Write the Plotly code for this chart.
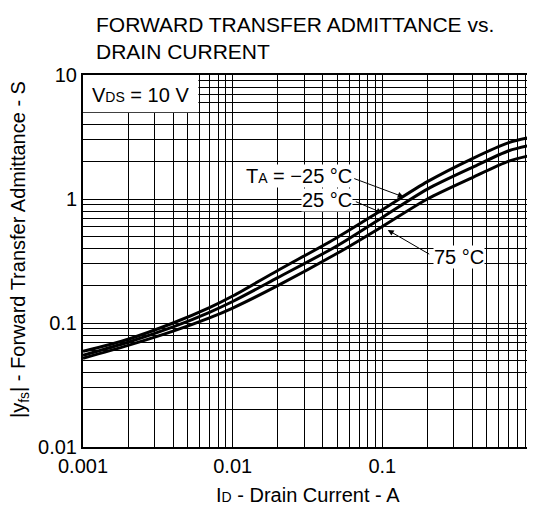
"""Forward transfer admittance vs. drain current chart"""

import plotly.graph_objects as go

# drain current, A
drain_current = [0.001, 0.002, 0.004, 0.007, 0.01, 0.02, 0.05, 0.1, 0.2, 0.4, 0.7, 1.0]

# |yfs| in S for each ambient temperature
yfs_minus25 = [0.059, 0.074, 0.100, 0.133, 0.165, 0.265, 0.49, 0.82, 1.38, 2.12, 2.85, 3.16]
yfs_25 = [0.055, 0.070, 0.093, 0.122, 0.149, 0.232, 0.42, 0.71, 1.20, 1.80, 2.45, 2.73]
yfs_75 = [0.052, 0.066, 0.086, 0.110, 0.132, 0.200, 0.365, 0.60, 1.00, 1.49, 2.02, 2.26]

x_ticks = [0.001, 0.01, 0.1, 1]
x_tick_labels = ['0.001', '0.01', '0.1', '1']
y_ticks = [0.01, 0.1, 1, 10]
y_tick_labels = ['0.01', '0.1', '1', '10']

FONT = 'Liberation Sans, Arial, sans-serif'
SMALL = '<span style="font-size:14px">{}</span>'

# the page body adds an 8 px margin, so the figure is 8 px smaller than the window
WIDTH, HEIGHT = 527, 507


def minor_vals(decades):
    """2..9 multiples of each decade start"""
    return [d * k for d in decades for k in range(2, 10)]


fig = go.Figure()

for series in (yfs_minus25, yfs_25, yfs_75):
    fig.add_trace(go.Scatter(
        x=drain_current,
        y=series,
        mode='lines',
        line=dict(color='black', width=3, shape='spline', smoothing=0.8),
        showlegend=False,
        hoverinfo='skip'
    ))

axis_common = dict(
    type='log',
    automargin=False,
    showline=True,
    linecolor='black',
    linewidth=2,
    mirror=True,
    showgrid=True,
    gridcolor='black',
    gridwidth=1,
    ticks='',
    tickfont=dict(size=20, color='black'),
    zeroline=False,
)

fig.update_xaxes(
    **axis_common,
    range=[-3, 0],
    tickmode='array',
    tickvals=x_ticks,
    ticktext=x_tick_labels,
    minor=dict(tickmode='array', tickvals=minor_vals([0.001, 0.01, 0.1]),
               showgrid=True, gridcolor='black', gridwidth=1, ticks=''),
)

fig.update_yaxes(
    **axis_common,
    range=[-2, 1],
    tickmode='array',
    tickvals=y_ticks,
    ticktext=y_tick_labels,
    minor=dict(tickmode='array', tickvals=minor_vals([0.01, 0.1, 1]),
               showgrid=True, gridcolor='black', gridwidth=1, ticks=''),
)

# chart title
fig.add_annotation(x=0.024, y=1.172, xref='paper', yref='paper',
                   text='FORWARD TRANSFER ADMITTANCE vs.<br>DRAIN CURRENT',
                   showarrow=False, xanchor='left', yanchor='top', align='left',
                   font=dict(size=21, color='black'))

# axis titles
fig.add_annotation(x=0.5, y=-0.129, xref='paper', yref='paper',
                   text='I' + SMALL.format('D') + ' - Drain Current - A',
                   showarrow=False, xanchor='center', yanchor='middle',
                   font=dict(size=20, color='black'))
fig.add_annotation(x=-0.14, y=0.53, xref='paper', yref='paper',
                   text='|y<sub>fs</sub>| - Forward Transfer Admittance - S',
                   showarrow=False, xanchor='center', yanchor='middle', textangle=-90,
                   font=dict(size=20, color='black'))

# white box behind the VDS label hides the grid
fig.add_shape(type='rect', xref='x', yref='y', x0=0.001, x1=0.0059, y0=5, y1=10,
              fillcolor='white', line=dict(width=0), layer='between')

fig.add_annotation(x=-3, y=1, xref='x', yref='y', text='V' + SMALL.format('DS') + ' = 10 V',
                   showarrow=False, xanchor='left', yanchor='top', xshift=7, yshift=-7,
                   font=dict(size=20, color='black'))

# temperature labels
label_style = dict(showarrow=False, bgcolor='white', font=dict(size=20, color='black'),
                   borderpad=0, xref='x', yref='y', yanchor='middle')
fig.add_annotation(x=-1.198, y=0.185, text='T' + SMALL.format('A') + ' = \u221225 \u00b0C',
                   xanchor='right', **label_style)
fig.add_annotation(x=-1.198, y=-0.008, text='25 \u00b0C', xanchor='right', **label_style)
fig.add_annotation(x=-0.662, y=-0.468, text='75 \u00b0C', xanchor='left', **label_style)

# arrows pointing to the curves
arrow_style = dict(text='', showarrow=True, arrowhead=2, arrowsize=1.2, arrowwidth=1,
                   arrowcolor='black', xref='x', yref='y')
fig.add_annotation(x=-0.857, y=0.016, ax=-51, ay=-19, **arrow_style)
fig.add_annotation(x=-1.0, y=-0.113, ax=-28, ay=-12, **arrow_style)
fig.add_annotation(x=-0.964, y=-0.25, ax=43, ay=25, **arrow_style)

fig.update_layout(
    width=WIDTH,
    height=HEIGHT,
    margin=dict(l=75, r=3, t=67, b=68),
    paper_bgcolor='white',
    plot_bgcolor='white',
    font=dict(family=FONT, color='black'),
)

fig.write_html("out.html")
